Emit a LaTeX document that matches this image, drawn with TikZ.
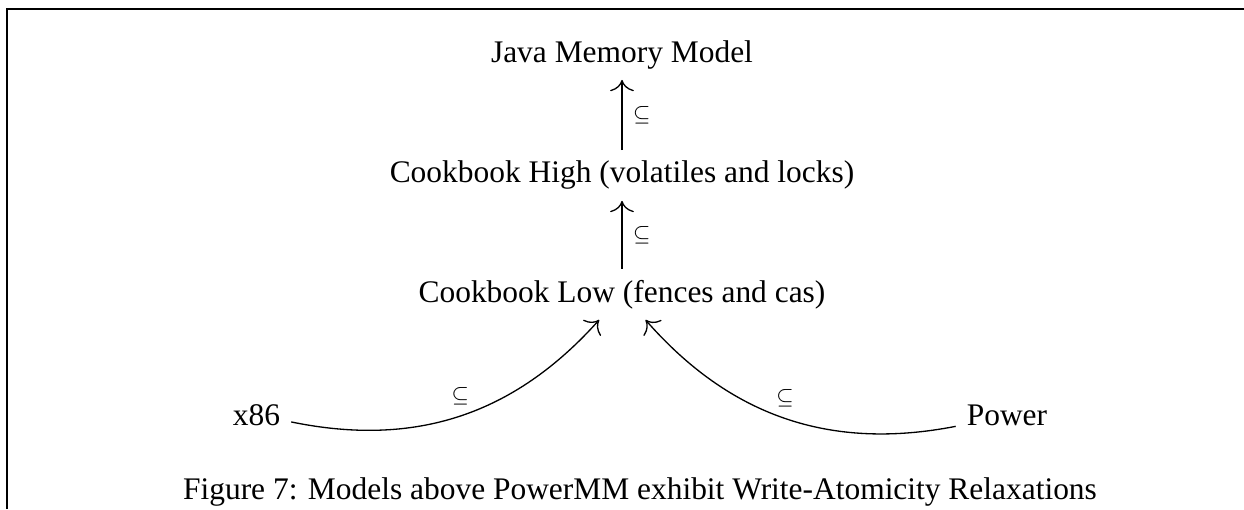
\documentclass[tikz,border=0pt,12pt]{standalone}
\usepackage{fontspec}
\setmainfont{Liberation Serif}
\usepackage{amsmath,amssymb}
\usetikzlibrary{calc,arrows.meta,bending}
\tikzset{>={To[scale=1.6]}}
\tikzset{incl/.style={font=\scriptsize}}

\begin{document}
\begin{tikzpicture}[line width=0.5pt]
      \useasboundingbox (0,0) rectangle (16.69,6.829);
      \draw[line width=0.6pt] (0.094,0) -- (0.094,6.708) -- (16.69,6.708);
      \node[anchor=base] (jmm) at (8.345,5.997) {Java Memory Model};
      \node[anchor=base] (chigh) at (8.345,4.374) {Cookbook High (volatiles and locks)};
      \node[anchor=base] (clow) at (8.345,2.777) {Cookbook Low (fences and cas)};
      \node[anchor=base] (x86) at (3.441,1.127) {x86};
      \node[anchor=base] (power) at (13.510,1.127) {Power};
      \draw[->] (chigh) -- node[right,incl] {$\subseteq$} (jmm);
      \draw[->] (clow) -- node[right,incl] {$\subseteq$} (chigh);
      \draw[->] (x86) to[bend right] node[above,incl] {$\subseteq$} (clow);
      \draw[->] (power) to[bend left] node[above,incl] {$\subseteq$} (clow);
      \node[anchor=base] (cap) at (8.586,0.121) {Figure 7: Models above PowerMM exhibit Write-Atomicity Relaxations};
\end{tikzpicture}
\end{document}
